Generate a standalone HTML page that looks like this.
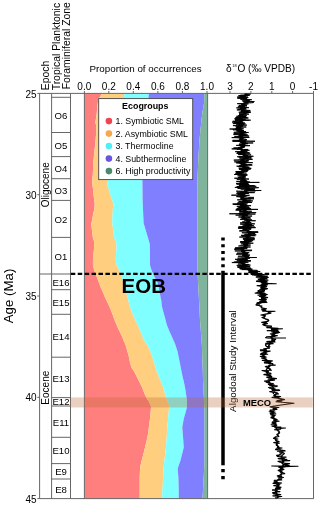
<!DOCTYPE html>
<html><head><meta charset="utf-8"><style>
html,body{margin:0;padding:0;background:#fff;}
svg{display:block;will-change:transform;}
text{font-family:"Liberation Sans",sans-serif;fill:#000;}
</style></head><body>
<svg width="320" height="506" viewBox="0 0 320 506">
<rect width="320" height="506" fill="#fff"/>
<g>
<polygon points="84.90,93.50 84.90,96.00 84.90,99.00 84.90,106.00 84.90,112.80 84.90,122.60 84.90,125.60 84.90,132.50 84.90,142.40 84.90,152.30 84.90,162.20 84.90,172.00 84.90,178.00 84.90,184.25 84.90,190.50 84.90,196.75 84.90,204.25 84.90,208.00 84.90,215.50 84.90,224.25 84.90,230.50 84.90,238.00 84.90,241.25 84.90,247.50 84.90,253.75 84.90,260.00 84.90,265.00 84.90,270.00 84.90,275.00 84.90,281.25 84.90,287.50 84.90,290.00 84.90,297.80 84.90,305.60 84.90,313.40 84.90,321.25 84.90,329.00 84.90,336.90 84.90,340.00 84.90,344.70 84.90,350.00 84.90,355.60 84.90,363.40 84.90,368.10 84.90,371.25 84.90,379.00 84.90,386.90 84.90,394.70 84.90,399.40 84.90,401.25 84.90,406.70 84.90,410.60 84.90,418.40 84.90,426.25 84.90,434.00 84.90,441.90 84.90,445.00 84.90,452.80 84.90,460.60 84.90,466.90 84.90,476.25 84.90,498.50 139.70,498.50 139.70,476.25 140.20,466.90 141.70,460.60 143.75,452.80 145.60,445.00 146.40,441.90 148.00,434.00 149.00,426.25 150.00,418.40 150.80,410.60 151.10,406.70 148.75,401.25 147.30,399.40 145.00,394.70 141.90,386.90 138.00,379.00 134.00,371.25 131.70,368.10 130.20,363.40 128.60,355.60 127.00,350.00 125.50,344.70 123.40,340.00 122.30,336.90 118.40,329.00 115.00,321.25 112.20,313.40 109.00,305.60 105.20,297.80 102.00,290.00 100.75,287.50 98.50,281.25 96.00,275.00 94.10,270.00 92.90,265.00 92.90,260.00 93.50,253.75 94.10,247.50 94.10,241.25 92.90,238.00 92.00,230.50 91.25,224.25 92.90,215.50 94.50,208.00 94.75,204.25 93.75,196.75 93.25,190.50 92.25,184.25 92.50,178.00 92.90,172.00 93.30,162.20 94.30,152.30 95.40,142.40 96.20,132.50 96.20,125.60 95.40,122.60 96.80,112.80 97.30,106.00 98.50,99.00 100.60,96.00 101.60,93.50" fill="#FF7F7F"/>
<polygon points="101.60,93.50 100.60,96.00 98.85,98.50 98.50,99.00 97.30,106.00 96.80,112.80 95.40,122.60 96.20,125.60 96.20,132.50 95.59,140.00 95.40,142.40 94.30,152.30 93.30,162.20 92.90,172.00 92.50,178.00 92.40,180.50 92.25,184.25 93.25,190.50 93.75,196.75 94.75,204.25 94.50,208.00 92.90,215.50 91.49,223.00 91.25,224.25 92.00,230.50 92.90,238.00 94.10,241.25 94.10,247.50 93.50,253.75 92.90,260.00 92.90,265.00 94.10,270.00 95.53,273.75 96.00,275.00 97.50,278.75 98.50,281.25 99.85,285.00 100.75,287.50 102.00,290.00 102.51,291.25 105.20,297.80 109.00,305.60 112.20,313.40 115.00,321.25 118.40,329.00 122.30,336.90 123.40,340.00 125.50,344.70 126.38,347.80 127.00,350.00 128.60,355.60 130.20,363.40 131.70,368.10 134.00,371.25 138.00,379.00 141.90,386.90 145.00,394.70 147.30,399.40 148.75,401.25 151.10,406.70 150.80,410.60 150.00,418.40 149.00,426.25 148.00,434.00 146.40,441.90 145.60,445.00 143.75,452.80 141.70,460.60 140.20,466.90 140.12,468.40 139.70,476.25 139.70,484.00 139.70,491.90 139.70,498.50 162.02,498.50 162.30,491.90 162.80,484.00 163.10,476.25 163.60,468.40 163.75,466.90 164.40,460.60 165.40,452.80 166.12,445.00 166.40,441.90 166.90,434.00 167.30,426.25 168.20,418.40 168.80,410.60 169.60,406.70 167.50,401.25 166.90,399.40 165.30,394.70 163.00,386.90 159.80,379.00 156.70,371.25 155.78,368.10 154.40,363.40 152.00,355.60 149.77,350.00 148.90,347.80 146.95,344.70 144.00,340.00 142.70,336.90 139.50,329.00 135.90,321.25 132.50,313.40 129.40,305.60 127.80,297.80 125.75,291.25 125.42,290.00 124.76,287.50 124.10,285.00 122.99,281.25 122.25,278.75 121.31,275.00 121.00,273.75 119.10,270.00 116.60,265.00 115.75,260.00 116.00,253.75 116.60,247.50 116.00,241.25 114.10,238.00 113.25,230.50 112.42,224.25 112.25,223.00 112.50,215.50 112.90,208.00 113.50,204.25 111.00,196.75 109.10,190.50 107.25,184.25 107.90,180.50 108.15,178.00 108.76,172.00 109.75,162.20 110.75,152.30 111.76,142.40 112.00,140.00 114.17,132.50 116.16,125.60 117.03,122.60 119.87,112.80 121.83,106.00 123.86,99.00 124.00,98.50 124.09,96.00 124.18,93.50" fill="#FFCF7F"/>
<polygon points="124.18,93.50 124.02,98.00 124.00,98.50 112.00,140.00 107.95,180.00 107.90,180.50 107.25,184.25 109.10,190.50 111.00,196.75 112.08,200.00 113.50,204.25 112.90,208.00 112.50,215.50 112.25,223.00 113.25,230.50 114.10,238.00 116.00,241.25 116.26,244.00 116.60,247.50 116.00,253.75 115.95,255.00 115.75,260.00 116.60,265.00 117.85,267.50 119.10,270.00 120.37,272.50 121.00,273.75 121.94,277.50 122.25,278.75 123.36,282.50 124.10,285.00 124.76,287.50 125.75,291.25 126.14,292.50 127.71,297.50 127.80,297.80 128.25,300.00 129.40,305.60 129.66,306.25 132.14,312.50 132.50,313.40 134.82,318.75 135.90,321.25 137.64,325.00 139.50,329.00 140.41,331.25 142.70,336.90 142.95,337.50 144.00,340.00 146.36,343.75 148.90,347.80 150.27,351.25 152.00,355.60 152.58,357.50 154.40,363.40 154.50,363.75 156.33,370.00 156.70,371.25 158.70,376.25 159.80,379.00 161.22,382.50 163.00,386.90 163.55,388.75 165.30,394.70 165.40,395.00 166.90,399.40 167.09,400.00 167.50,401.25 169.60,406.70 169.44,407.50 168.80,410.60 168.65,412.50 168.20,418.40 168.16,418.75 167.30,426.25 167.24,427.50 166.90,434.00 166.68,437.50 166.40,441.90 165.89,447.50 165.43,452.50 165.40,452.80 164.48,460.00 164.40,460.60 163.60,468.40 163.10,476.25 163.05,477.50 162.80,484.00 162.42,490.00 162.30,491.90 162.02,498.50 178.75,498.50 178.75,491.90 178.75,490.00 178.58,484.00 178.40,477.50 178.30,476.25 177.70,468.40 180.39,460.60 180.60,460.00 182.42,452.80 182.50,452.50 183.75,447.50 183.39,441.90 183.10,437.50 182.80,434.00 182.25,427.50 182.46,426.25 183.75,418.75 183.85,418.40 185.60,412.50 186.09,410.60 186.90,407.50 186.90,406.70 186.90,401.25 186.90,400.00 186.82,399.40 186.20,395.00 186.15,394.70 185.25,388.75 184.88,386.90 184.00,382.50 183.16,379.00 182.50,376.25 181.50,371.25 181.25,370.00 180.00,363.75 179.93,363.40 178.75,357.50 178.37,355.60 177.50,351.25 176.35,347.80 175.00,343.75 173.35,340.00 172.25,337.50 171.98,336.90 169.40,331.25 168.50,329.00 166.90,325.00 165.91,321.25 165.25,318.75 163.75,313.40 163.50,312.50 161.90,306.25 161.83,305.60 161.25,300.00 160.68,297.80 160.60,297.50 159.75,292.50 159.50,291.25 158.75,287.50 158.12,285.00 157.50,282.50 155.44,278.75 154.75,277.50 153.06,273.75 152.50,272.50 151.55,270.00 150.60,267.50 150.00,265.00 150.00,260.00 150.00,255.00 149.98,253.75 149.86,247.50 149.80,244.00 148.99,241.25 148.03,238.00 145.81,230.50 143.60,223.00 143.27,215.50 142.95,208.00 142.78,204.25 142.60,200.00 142.57,196.75 142.50,190.50 142.44,184.25 142.41,180.50 142.40,180.00 145.00,140.00 148.46,98.50 148.50,98.00 148.86,93.50" fill="#7FFFFF"/>
<polygon points="148.86,93.50 148.50,98.00 148.17,102.00 147.50,110.00 146.70,119.60 145.88,129.50 145.05,139.40 145.00,140.00 144.40,149.30 143.75,159.20 143.12,169.00 142.47,179.00 142.40,180.00 142.60,200.00 143.60,223.00 149.80,244.00 150.00,255.00 150.00,265.00 150.60,267.50 152.50,272.50 154.75,277.50 157.50,282.50 158.75,287.50 159.75,292.50 160.18,295.00 160.60,297.50 161.25,300.00 161.90,306.25 163.50,312.50 165.25,318.75 165.58,320.00 166.90,325.00 169.40,331.25 172.25,337.50 175.00,343.75 175.42,345.00 177.50,351.25 178.75,357.50 180.00,363.75 181.25,370.00 182.50,376.25 184.00,382.50 185.25,388.75 186.20,395.00 186.90,400.00 186.90,407.50 185.60,412.50 184.86,415.00 183.75,418.75 182.25,427.50 183.10,437.50 183.26,440.00 183.75,447.50 182.50,452.50 180.60,460.00 179.74,462.50 177.70,468.40 178.40,477.50 178.75,490.00 178.75,498.50 202.53,498.50 203.00,490.00 203.68,477.50 204.18,468.40 204.50,462.50 204.50,460.00 204.50,452.50 204.50,447.50 204.50,440.00 204.50,437.50 204.50,427.50 204.50,418.75 204.50,415.00 204.41,412.50 204.22,407.50 203.94,400.00 203.75,395.00 203.43,388.75 203.10,382.50 202.93,376.25 202.75,370.00 202.50,363.75 202.25,357.50 202.07,351.25 201.90,345.00 201.81,343.75 201.33,337.50 200.85,331.25 200.38,325.00 200.00,320.00 199.94,318.75 199.62,312.50 199.31,306.25 199.00,300.00 198.88,297.50 198.75,295.00 198.61,292.50 198.33,287.50 198.06,282.50 197.78,277.50 197.50,272.50 197.50,267.50 197.50,265.00 197.50,255.00 197.50,244.00 197.50,223.00 197.50,200.00 197.50,180.00 197.50,179.00 197.90,169.00 198.30,159.20 198.90,149.30 199.46,140.00 199.50,139.40 200.50,129.50 201.50,119.60 202.80,110.00 204.20,102.00 204.24,98.00 204.29,93.50" fill="#7F7FFF"/>
<polygon points="204.29,93.50 204.20,102.00 202.80,110.00 201.50,119.60 200.50,129.50 199.50,139.40 198.90,149.30 198.30,159.20 197.90,169.00 197.50,179.00 197.50,272.50 198.75,295.00 200.00,320.00 201.90,345.00 202.25,357.50 202.75,370.00 203.10,382.50 203.75,395.00 204.50,415.00 204.50,440.00 204.50,462.50 203.00,490.00 202.53,498.50 207.20,498.50 207.20,490.00 207.20,462.50 207.20,440.00 207.20,415.00 207.20,395.00 207.20,382.50 207.20,370.00 207.20,357.50 207.20,345.00 207.20,320.00 207.20,295.00 207.20,272.50 207.20,179.00 207.20,169.00 207.20,159.20 207.20,149.30 207.20,139.40 207.20,129.50 207.20,119.60 207.20,110.00 207.20,102.00 207.20,93.50" fill="#7FB39B"/>

</g>
<!-- frame -->
<g stroke="#666" stroke-width="1" fill="none">
<line x1="37.3" y1="93.4" x2="313.8" y2="93.4"/>
<line x1="37.3" y1="498.6" x2="313.8" y2="498.6"/>
<line x1="39.6" y1="93.4" x2="39.6" y2="498.6"/>
<line x1="51.6" y1="93.4" x2="51.6" y2="498.6"/>
<line x1="70.5" y1="93.4" x2="70.5" y2="498.6"/>
<line x1="84.4" y1="93.4" x2="84.4" y2="498.6"/>
<line x1="207.6" y1="93.4" x2="207.6" y2="498.6"/>
<line x1="313.5" y1="93.4" x2="313.5" y2="498.6"/>
<!-- y ticks -->
<line x1="37.3" y1="194.7" x2="39.6" y2="194.7"/>
<line x1="37.3" y1="296" x2="39.6" y2="296"/>
<line x1="37.3" y1="397.3" x2="39.6" y2="397.3"/>
<!-- zone lines -->
<line x1="51.6" y1="97.3" x2="70.5" y2="97.3"/>
<line x1="51.6" y1="132.5" x2="70.5" y2="132.5"/>
<line x1="51.6" y1="156.6" x2="70.5" y2="156.6"/>
<line x1="51.6" y1="178.7" x2="70.5" y2="178.7"/>
<line x1="51.6" y1="200.4" x2="70.5" y2="200.4"/>
<line x1="51.6" y1="237.4" x2="70.5" y2="237.4"/>
<line x1="39.6" y1="274" x2="70.5" y2="274"/>
<line x1="51.6" y1="289.7" x2="70.5" y2="289.7"/>
<line x1="51.6" y1="314.3" x2="70.5" y2="314.3"/>
<line x1="51.6" y1="357.2" x2="70.5" y2="357.2"/>
<line x1="51.6" y1="397.6" x2="70.5" y2="397.6"/>
<line x1="51.6" y1="406" x2="70.5" y2="406"/>
<line x1="51.6" y1="437.3" x2="70.5" y2="437.3"/>
<line x1="51.6" y1="463.6" x2="70.5" y2="463.6"/>
<line x1="51.6" y1="479" x2="70.5" y2="479"/>
<!-- top ticks proportion -->
<line x1="84.4" y1="91" x2="84.4" y2="93.4"/>
<line x1="108.8" y1="91" x2="108.8" y2="93.4"/>
<line x1="133.3" y1="91" x2="133.3" y2="93.4"/>
<line x1="157.9" y1="91" x2="157.9" y2="93.4"/>
<line x1="182.4" y1="91" x2="182.4" y2="93.4"/>
<line x1="207" y1="91" x2="207" y2="93.4"/>
<!-- top ticks d18O -->
<line x1="230" y1="91" x2="230" y2="93.4"/>
<line x1="250.9" y1="91" x2="250.9" y2="93.4"/>
<line x1="271.8" y1="91" x2="271.8" y2="93.4"/>
<line x1="292.6" y1="91" x2="292.6" y2="93.4"/>
<line x1="313.5" y1="91" x2="313.5" y2="93.4"/>
</g>
<!-- legend -->
<rect x="98.7" y="98.6" width="94" height="81" fill="#fff" stroke="#444" stroke-width="0.9"/>
<text x="145.3" y="109.2" font-size="8.9" font-weight="bold" text-anchor="middle">Ecogroups</text>
<g font-size="8.8">
<circle cx="108.9" cy="121.1" r="3.3" fill="#F04550"/>
<text x="115.5" y="124.3">1. Symbiotic SML</text>
<circle cx="108.9" cy="133.6" r="3.3" fill="#FBA64D"/>
<text x="115.5" y="136.8">2. Asymbiotic SML</text>
<circle cx="108.9" cy="146.1" r="3.3" fill="#4EF0F5"/>
<text x="115.5" y="149.3">3. Thermocline</text>
<circle cx="108.9" cy="158.6" r="3.3" fill="#6B55E0"/>
<text x="115.5" y="161.8">4. Subthermocline</text>
<circle cx="108.9" cy="171.1" r="3.3" fill="#4A8A6A"/>
<text x="115.5" y="174.3">6. High productivity</text>
</g>
<!-- axis labels -->
<g font-size="10">
<text x="36.6" y="97.5" text-anchor="end">25</text>
<text x="36.6" y="198.8" text-anchor="end">30</text>
<text x="36.6" y="300.1" text-anchor="end">35</text>
<text x="36.6" y="401.4" text-anchor="end">40</text>
<text x="36.6" y="502.7" text-anchor="end">45</text>
<text x="84.3" y="90.2" text-anchor="middle">0.0</text>
<text x="108.8" y="90.2" text-anchor="middle">0.2</text>
<text x="133.3" y="90.2" text-anchor="middle">0.4</text>
<text x="157.9" y="90.2" text-anchor="middle">0.6</text>
<text x="182.4" y="90.2" text-anchor="middle">0.8</text>
<text x="207" y="90.2" text-anchor="middle">1.0</text>
<text x="230" y="90.2" text-anchor="middle">3</text>
<text x="250.9" y="90.2" text-anchor="middle">2</text>
<text x="271.8" y="90.2" text-anchor="middle">1</text>
<text x="292.6" y="90.2" text-anchor="middle">0</text>
<text x="313.5" y="90.2" text-anchor="middle">-1</text>
<text x="145.6" y="71.9" text-anchor="middle" font-size="9.8">Proportion of occurrences</text>
<text x="226" y="72" font-size="10.1">δ<tspan font-size="3.9" dy="-5.3" dx="0.6">18</tspan><tspan dy="5.3" dx="0.9">O (‰ VPDB)</tspan></text>
</g>
<g font-size="10">
<text transform="translate(48.5,90.2) rotate(-90)" font-size="10.4">Epoch</text>
<text transform="translate(59.5,90.3) rotate(-90)" font-size="10.4">Tropical Planktonic</text>
<text transform="translate(70.2,89.3) rotate(-90)" font-size="10.4">Foraminiferal Zone</text>
<text transform="translate(48.5,184.8) rotate(-90)" text-anchor="middle">Oligocene</text>
<text transform="translate(48.5,387.7) rotate(-90)" text-anchor="middle">Eocene</text>
</g>
<text transform="translate(12.7,296) rotate(-90)" text-anchor="middle" font-size="13.3">Age (Ma)</text>
<!-- zone labels -->
<g font-size="9.6" text-anchor="middle">
<text x="61" y="118.9">O6</text>
<text x="61" y="148.5">O5</text>
<text x="61" y="171.6">O4</text>
<text x="61" y="193.5">O3</text>
<text x="61" y="222.9">O2</text>
<text x="61" y="259.7">O1</text>
<text x="61" y="285.8">E16</text>
<text x="61" y="306.0">E15</text>
<text x="61" y="339.7">E14</text>
<text x="61" y="381.5">E13</text>
<text x="61" y="404.6">E12</text>
<text x="61" y="425.6">E11</text>
<text x="61" y="454.4">E10</text>
<text x="61" y="475.3">E9</text>
<text x="61" y="492.7">E8</text>
</g>
<!-- EOB line -->
<line x1="70.8" y1="273.8" x2="311.4" y2="273.8" stroke="#000" stroke-width="2.2" stroke-dasharray="4.5 2.425"/>
<text transform="translate(121.6,292.6) scale(1.05,1)" font-size="19.5" font-weight="bold">EOB</text>
<!-- study interval -->
<line x1="223" y1="237.6" x2="223" y2="270.8" stroke="#000" stroke-width="3.5" stroke-dasharray="3 3.65"/>
<line x1="223" y1="270.8" x2="223" y2="465.3" stroke="#000" stroke-width="3.5"/>
<line x1="223" y1="469" x2="223" y2="479.2" stroke="#000" stroke-width="3.5" stroke-dasharray="3.2 3.8"/>
<text transform="translate(235.9,411.9) rotate(-90)" font-size="9.9">Algodoal Study Interval</text>
<!-- curve -->
<polygon points="244.05,93.80 244.52,94.80 242.90,95.80 240.90,96.80 243.64,97.80 245.10,98.80 245.02,99.80 245.91,100.80 245.43,101.80 243.76,102.80 241.97,103.80 241.52,104.80 241.75,105.80 240.35,106.80 240.01,107.80 241.67,108.80 240.87,109.80 241.09,110.80 241.52,111.80 243.87,112.80 243.61,113.80 240.48,114.80 238.88,115.80 238.87,116.80 237.92,117.80 238.48,118.80 240.37,119.80 239.81,120.80 239.14,121.80 239.08,122.80 239.79,123.80 238.90,124.80 238.24,125.80 236.70,126.80 236.34,127.80 235.09,128.80 236.05,129.80 237.29,130.80 239.70,131.80 238.98,132.80 239.45,133.80 238.49,134.80 238.47,135.80 238.73,136.80 238.75,137.80 239.91,138.80 238.77,139.80 237.31,140.80 239.13,141.80 240.07,142.80 242.07,143.80 241.21,144.80 241.67,145.80 240.32,146.80 237.61,147.80 237.43,148.80 240.28,149.80 240.74,150.80 240.11,151.80 239.69,152.80 240.77,153.80 241.37,154.80 243.18,155.80 244.77,156.80 244.28,157.80 242.24,158.80 240.22,159.80 240.22,160.80 241.47,161.80 240.78,162.80 241.10,163.80 243.23,164.80 241.89,165.80 241.72,166.80 242.49,167.80 242.90,168.80 241.72,169.80 240.98,170.80 239.56,171.80 239.36,172.80 237.56,173.80 239.07,174.80 241.43,175.80 241.77,176.80 239.81,177.80 240.86,178.80 241.41,179.80 242.56,180.80 243.32,181.80 243.63,182.80 242.50,183.80 242.11,184.80 241.71,185.80 243.75,186.80 245.45,187.80 245.47,188.80 245.61,189.80 245.10,190.80 241.67,191.80 240.55,192.80 240.54,193.80 241.47,194.80 240.09,195.80 239.09,196.80 240.52,197.80 241.09,198.80 241.83,199.80 243.12,200.80 243.11,201.80 241.01,202.80 239.19,203.80 238.76,204.80 240.20,205.80 241.15,206.80 241.85,207.80 243.28,208.80 243.72,209.80 242.58,210.80 242.11,211.80 243.67,212.80 243.82,213.80 242.11,214.80 242.29,215.80 241.44,216.80 242.46,217.80 243.85,218.80 245.82,219.80 246.70,220.80 246.79,221.80 245.93,222.80 245.73,223.80 246.23,224.80 244.68,225.80 245.82,226.80 244.89,227.80 243.55,228.80 243.67,229.80 246.20,230.80 247.10,231.80 247.76,232.80 248.19,233.80 247.17,234.80 247.20,235.80 245.29,236.80 245.74,237.80 246.60,238.80 245.75,239.80 243.82,240.80 243.34,241.80 244.15,242.80 244.47,243.80 243.34,244.80 244.27,245.80 243.65,246.80 239.71,247.80 239.47,248.80 241.01,249.80 241.39,250.80 241.38,251.80 243.05,252.80 243.02,253.80 242.17,254.80 243.25,255.80 244.17,256.80 245.54,257.80 242.50,258.80 240.49,259.80 239.29,260.80 239.79,261.80 238.85,262.80 241.70,263.80 242.11,264.80 242.89,265.80 241.01,266.80 243.25,267.80 244.70,268.80 246.90,269.80 248.42,270.80 250.76,271.80 252.88,272.80 254.00,273.80 255.20,274.80 257.82,275.80 259.94,276.80 260.60,277.80 260.27,278.80 260.82,279.80 261.27,280.80 260.10,281.80 261.12,282.80 261.95,283.80 261.17,284.80 260.43,285.80 260.97,286.80 261.61,287.80 261.11,288.80 262.08,289.80 261.69,290.80 259.29,291.80 258.39,292.80 259.86,293.80 261.21,294.80 260.52,295.80 260.32,296.80 260.80,297.80 261.93,298.80 260.24,299.80 261.81,300.80 261.73,301.80 260.12,302.80 258.56,303.80 258.44,304.80 258.67,305.80 260.08,306.80 261.28,307.80 262.94,308.80 264.07,309.80 264.90,310.80 266.48,311.80 269.10,312.80 267.63,313.80 264.55,314.80 263.65,315.80 263.86,316.80 263.33,317.80 263.71,318.80 266.00,319.80 268.06,320.80 266.21,321.80 264.54,322.80 263.50,323.80 261.72,324.80 263.61,325.80 267.14,326.80 269.80,327.80 271.05,328.80 271.20,329.80 272.84,330.80 272.97,331.80 273.10,332.80 273.14,333.80 272.79,334.80 271.77,335.80 270.89,336.80 270.11,337.80 271.50,338.80 271.20,339.80 271.03,340.80 269.26,341.80 269.35,342.80 268.72,343.80 268.36,344.80 267.89,345.80 268.42,346.80 266.71,347.80 264.34,348.80 264.32,349.80 264.02,350.80 264.16,351.80 264.22,352.80 264.26,353.80 263.18,354.80 261.84,355.80 262.22,356.80 264.11,357.80 264.80,358.80 264.55,359.80 266.81,360.80 267.03,361.80 267.63,362.80 268.12,363.80 270.01,364.80 268.44,365.80 267.25,366.80 267.78,367.80 266.12,368.80 265.61,369.80 265.98,370.80 266.54,371.80 267.43,372.80 266.29,373.80 267.21,374.80 268.51,375.80 269.87,376.80 270.74,377.80 271.26,378.80 269.61,379.80 268.33,380.80 267.87,381.80 268.22,382.80 269.95,383.80 270.07,384.80 271.00,385.80 271.82,386.80 272.81,387.80 271.86,388.80 272.96,389.80 274.44,390.80 273.16,391.80 272.30,392.80 272.88,393.80 274.02,394.80 274.62,395.80 274.92,396.80 276.31,396.80 275.49,395.80 276.21,394.80 274.09,393.80 273.91,392.80 274.27,391.80 276.30,390.80 275.04,389.80 273.61,388.80 274.19,387.80 273.19,386.80 273.38,385.80 271.96,384.80 271.26,383.80 270.80,382.80 269.54,381.80 270.52,380.80 271.93,379.80 272.68,378.80 272.07,377.80 271.27,376.80 270.05,375.80 268.49,374.80 268.14,373.80 268.11,372.80 267.96,371.80 267.94,370.80 267.07,369.80 267.76,368.80 268.69,367.80 270.07,366.80 270.47,365.80 270.77,364.80 270.07,363.80 269.65,362.80 269.14,361.80 268.66,360.80 267.11,359.80 265.49,358.80 265.31,357.80 264.63,356.80 263.92,355.80 265.10,354.80 266.51,353.80 267.43,352.80 265.47,351.80 265.98,350.80 265.49,349.80 265.75,348.80 267.01,347.80 269.52,346.80 269.67,345.80 269.96,344.80 271.36,343.80 270.75,342.80 272.46,341.80 271.59,340.80 273.02,339.80 274.17,338.80 272.51,337.80 273.09,336.80 273.64,335.80 274.83,334.80 276.13,333.80 274.88,332.80 274.74,331.80 274.07,330.80 274.02,329.80 274.22,328.80 272.77,327.80 269.26,326.80 266.58,325.80 265.14,324.80 265.81,323.80 266.57,322.80 268.00,321.80 268.61,320.80 267.73,319.80 265.43,318.80 264.46,317.80 265.28,316.80 266.04,315.80 265.05,314.80 268.70,313.80 270.56,312.80 268.09,311.80 266.11,310.80 265.92,309.80 264.40,308.80 262.55,307.80 261.49,306.80 259.82,305.80 259.47,304.80 260.33,303.80 263.05,302.80 264.30,301.80 265.07,300.80 263.68,299.80 264.96,298.80 264.28,297.80 264.78,296.80 264.74,295.80 264.15,294.80 262.97,293.80 262.23,292.80 263.96,291.80 265.24,290.80 264.72,289.80 264.74,288.80 264.31,287.80 265.25,286.80 264.67,285.80 265.33,284.80 266.95,283.80 266.25,282.80 265.50,281.80 264.79,280.80 265.17,279.80 264.72,278.80 264.16,277.80 265.06,276.80 262.78,275.80 260.76,274.80 258.34,273.80 257.89,272.80 256.96,271.80 254.88,270.80 251.51,269.80 251.08,268.80 246.66,267.80 244.57,266.80 247.44,265.80 247.66,264.80 245.84,263.80 244.06,262.80 242.78,261.80 244.09,260.80 244.25,259.80 246.56,258.80 248.18,257.80 248.81,256.80 246.68,255.80 247.26,254.80 247.73,253.80 245.85,252.80 245.20,251.80 245.82,250.80 244.58,249.80 243.32,248.80 244.49,247.80 246.60,246.80 248.52,245.80 247.29,244.80 247.94,243.80 247.80,242.80 247.51,241.80 247.22,240.80 248.66,239.80 249.17,238.80 249.16,237.80 248.54,236.80 249.55,235.80 250.45,234.80 250.80,233.80 252.28,232.80 251.40,231.80 249.74,230.80 246.90,229.80 247.81,228.80 248.66,227.80 248.50,226.80 247.99,225.80 248.92,224.80 248.66,223.80 249.25,222.80 249.16,221.80 250.04,220.80 249.07,219.80 247.36,218.80 244.93,217.80 245.55,216.80 244.40,215.80 245.38,214.80 247.68,213.80 247.56,212.80 245.77,211.80 246.42,210.80 247.28,209.80 248.12,208.80 245.75,207.80 244.55,206.80 243.89,205.80 244.14,204.80 243.64,203.80 245.90,202.80 248.41,201.80 247.32,200.80 245.98,199.80 245.20,198.80 244.74,197.80 243.74,196.80 244.29,195.80 245.20,194.80 246.04,193.80 245.71,192.80 246.79,191.80 250.22,190.80 250.86,189.80 250.09,188.80 250.13,187.80 247.86,186.80 246.67,185.80 246.20,184.80 248.32,183.80 248.31,182.80 247.75,181.80 246.47,180.80 246.13,179.80 244.68,178.80 243.75,177.80 245.47,176.80 245.46,175.80 243.21,174.80 241.88,173.80 242.73,172.80 244.16,171.80 244.49,170.80 245.76,169.80 247.23,168.80 246.51,167.80 245.55,166.80 246.62,165.80 247.51,164.80 245.62,163.80 244.76,162.80 245.17,161.80 245.43,160.80 244.04,159.80 246.18,158.80 248.84,157.80 248.05,156.80 247.00,155.80 245.61,154.80 245.82,153.80 244.08,152.80 244.21,151.80 244.94,150.80 243.00,149.80 242.01,148.80 242.83,147.80 244.15,146.80 246.00,145.80 244.96,144.80 245.42,143.80 244.03,142.80 243.82,141.80 241.62,140.80 242.68,139.80 243.59,138.80 243.67,137.80 243.13,136.80 242.72,135.80 243.80,134.80 243.40,133.80 243.86,132.80 243.95,131.80 241.15,130.80 239.92,129.80 239.84,128.80 241.43,127.80 240.61,126.80 242.43,125.80 243.98,124.80 243.79,123.80 241.41,122.80 241.96,121.80 243.93,120.80 243.68,119.80 242.29,118.80 242.85,117.80 243.20,116.80 242.60,115.80 244.02,114.80 246.51,113.80 248.16,112.80 246.55,111.80 245.10,110.80 245.67,109.80 245.16,108.80 243.63,107.80 245.29,106.80 244.45,105.80 244.01,104.80 244.65,103.80 248.55,102.80 249.57,101.80 249.62,100.80 248.18,99.80 247.19,98.80 246.37,97.80 244.65,96.80 246.14,95.80 247.59,94.80 246.96,93.80" fill="#000"/><polygon points="274.61,407.80 275.65,408.80 273.73,409.80 273.29,410.80 271.62,411.80 272.11,412.80 271.48,413.80 271.64,414.80 272.92,415.80 272.21,416.80 271.80,417.80 272.71,418.80 273.76,419.80 274.42,420.80 274.78,421.80 275.00,422.80 274.31,423.80 274.74,424.80 274.14,425.80 274.41,426.80 276.22,427.80 275.41,428.80 275.84,429.80 278.02,430.80 278.49,431.80 278.27,432.80 278.03,433.80 277.60,434.80 276.72,435.80 274.58,436.80 274.32,437.80 274.64,438.80 274.75,439.80 275.17,440.80 276.72,441.80 276.58,442.80 275.62,443.80 275.55,444.80 277.20,445.80 277.09,446.80 276.73,447.80 278.30,448.80 279.78,449.80 281.11,450.80 281.61,451.80 282.80,452.80 283.46,453.80 281.90,454.80 281.03,455.80 280.24,456.80 281.47,457.80 281.59,458.80 281.28,459.80 281.98,460.80 281.93,461.80 281.79,462.80 281.54,463.80 282.65,464.80 282.15,465.80 281.67,466.80 280.38,467.80 280.30,468.80 278.74,469.80 280.10,470.80 280.08,471.80 281.42,472.80 280.65,473.80 280.10,474.80 281.05,475.80 279.41,476.80 279.72,477.80 277.89,478.80 277.73,479.80 275.62,480.80 275.81,481.80 276.79,482.80 276.35,483.80 277.48,484.80 276.78,485.80 277.15,486.80 275.42,487.80 275.61,488.80 274.79,489.80 275.32,490.80 274.80,491.80 274.37,492.80 275.90,493.80 276.49,494.80 276.84,495.80 277.05,496.80 276.68,497.80 278.40,497.80 279.31,496.80 278.60,495.80 278.06,494.80 277.74,493.80 277.14,492.80 277.25,491.80 276.94,490.80 276.66,489.80 276.74,488.80 277.89,487.80 279.32,486.80 279.35,485.80 279.39,484.80 278.74,483.80 278.56,482.80 277.61,481.80 277.35,480.80 279.50,479.80 279.65,478.80 280.02,477.80 281.40,476.80 281.55,475.80 281.81,474.80 281.77,473.80 283.19,472.80 282.65,471.80 281.08,470.80 281.41,469.80 282.74,468.80 282.42,467.80 282.79,466.80 283.89,465.80 284.73,464.80 283.38,463.80 283.61,462.80 284.61,461.80 283.91,460.80 282.83,459.80 282.98,458.80 282.40,457.80 282.62,456.80 282.61,455.80 283.86,454.80 285.08,453.80 284.38,452.80 282.30,451.80 281.75,450.80 280.73,449.80 280.11,448.80 278.61,447.80 278.19,446.80 278.38,445.80 277.35,444.80 277.47,443.80 277.98,442.80 278.32,441.80 277.53,440.80 276.53,439.80 276.09,438.80 275.11,437.80 276.09,436.80 277.98,435.80 278.16,434.80 279.45,433.80 279.70,432.80 278.97,431.80 278.25,430.80 278.32,429.80 277.23,428.80 277.39,427.80 275.71,426.80 275.49,425.80 276.21,424.80 275.79,423.80 275.78,422.80 275.98,421.80 275.77,420.80 274.91,419.80 274.78,418.80 274.10,417.80 275.12,416.80 273.71,415.80 272.30,414.80 273.70,413.80 273.98,412.80 273.30,411.80 274.28,410.80 275.77,409.80 277.13,408.80 275.90,407.80" fill="#000"/>
<polyline points="245.47,93.60 245.34,93.87 250.57,94.08 249.83,94.33 246.66,94.53 245.12,94.75 246.29,94.99 240.36,95.24 249.65,95.40 238.45,95.61 243.61,95.81 247.90,95.98 241.80,96.23 239.54,96.39 246.16,96.63 246.22,96.81 237.33,96.93 239.74,97.21 241.79,97.43 248.29,97.57 237.64,97.81 244.66,97.93 237.30,98.16 244.52,98.40 241.13,98.58 247.07,98.84 240.25,99.12 242.65,99.38 251.76,99.66 245.73,99.88 241.85,100.01 243.30,100.19 243.53,100.40 245.49,100.58 249.96,100.74 248.32,100.88 247.76,101.11 242.58,101.25 254.39,101.52 253.50,101.75 245.88,101.77 243.32,101.92 251.71,102.08 251.93,102.30 253.70,102.45 253.08,102.61 251.71,102.82 247.85,103.01 245.71,103.21 242.54,103.48 237.19,103.65 248.42,103.89 245.50,104.02 244.92,104.29 241.25,104.53 246.57,104.76 246.54,104.95 241.81,105.16 238.91,105.37 246.96,105.60 245.66,105.83 246.73,106.05 238.62,106.18 240.52,106.40 244.23,106.63 237.87,106.89 239.65,107.06 244.19,107.21 240.65,107.40 248.93,107.63 236.40,107.87 238.55,108.08 246.02,108.28 240.21,108.51 240.29,108.66 244.06,108.82 246.44,109.01 238.52,109.29 238.19,109.42 241.05,109.65 236.89,109.90 240.52,110.05 248.16,110.29 250.31,110.43 248.85,110.66 243.32,110.89 249.59,111.02 248.63,111.29 245.56,111.44 247.89,111.59 240.54,111.77 250.91,112.04 238.75,112.26 250.43,112.52 243.45,112.73 243.94,113.00 246.17,113.13 240.32,113.37 239.24,113.62 240.96,113.80 247.09,113.94 248.95,114.19 239.01,114.39 240.88,114.55 242.91,114.78 240.11,115.04 246.32,115.22 246.89,115.37 238.26,115.58 242.54,115.78 241.49,115.91 241.94,116.09 236.43,116.29 246.19,116.50 240.82,116.76 244.55,116.90 238.97,117.17 245.58,117.32 235.58,117.46 247.31,117.61 236.30,117.79 248.41,118.02 235.25,118.26 241.79,118.48 240.97,118.68 234.43,118.84 245.35,119.08 245.76,119.25 245.57,119.40 235.12,119.54 240.79,119.68 249.48,119.93 250.60,120.17 249.31,120.45 235.01,120.68 243.28,120.80 238.36,121.07 232.83,121.21 235.27,121.47 234.30,121.70 239.84,121.90 232.09,122.11 242.90,122.26 234.37,122.45 235.64,122.69 244.85,122.95 237.22,123.22 243.76,123.43 232.89,123.60 245.47,123.78 244.43,124.01 236.90,124.20 236.30,124.37 243.06,124.55 243.47,124.71 242.30,124.88 246.83,125.09 243.94,125.31 232.96,125.59 235.51,125.75 235.83,125.90 240.60,126.06 240.58,126.26 242.99,126.54 242.35,126.67 235.67,126.80 246.27,126.99 239.14,127.21 237.04,127.38 236.43,127.58 241.45,127.85 239.54,127.97 240.35,128.19 237.03,128.32 235.87,128.54 243.60,128.78 229.64,129.02 242.34,129.26 232.85,129.51 233.96,129.73 233.23,129.86 237.16,130.05 237.08,130.21 244.01,130.46 236.39,130.73 242.77,130.87 237.72,131.09 241.79,131.32 237.81,131.54 246.04,131.70 236.20,131.96 236.02,132.12 233.83,132.33 248.57,132.47 241.59,132.65 244.87,132.79 245.10,132.98 243.90,133.23 233.68,133.41 241.46,133.69 240.10,133.93 246.65,134.10 240.78,134.24 244.06,134.47 233.44,134.60 239.27,134.80 247.88,135.06 242.00,135.20 245.75,135.47 238.98,135.66 245.81,135.83 249.12,136.09 241.72,136.21 239.18,136.46 234.37,136.64 238.05,136.88 240.99,137.01 242.25,137.22 249.31,137.47 231.72,137.60 236.89,137.73 238.29,137.97 241.61,138.13 239.75,138.37 241.73,138.65 244.28,138.85 245.63,139.12 245.25,139.35 246.78,139.60 243.58,139.82 239.80,140.07 246.38,140.21 232.55,140.39 244.78,140.60 237.72,140.79 245.05,140.94 250.75,141.18 255.00,141.25 232.51,141.30 240.19,141.52 245.54,141.72 246.35,141.90 242.12,142.12 240.84,142.38 245.69,142.65 241.48,142.79 253.16,142.94 246.49,143.19 247.79,143.32 242.71,143.58 247.69,143.74 239.20,143.93 239.05,144.19 243.51,144.43 239.63,144.56 239.32,144.71 244.70,144.85 245.64,145.06 243.96,145.19 236.21,145.39 249.97,145.66 239.61,145.86 241.21,146.12 242.84,146.25 245.00,146.48 242.25,146.62 243.84,146.90 244.18,147.02 241.02,147.18 244.49,147.30 238.52,147.45 238.27,147.63 242.07,147.80 233.50,147.97 242.33,148.24 235.37,148.41 233.85,148.55 241.05,148.74 231.72,148.87 238.70,149.06 236.88,149.31 248.00,149.46 244.05,149.73 245.05,149.95 242.38,150.11 249.44,150.27 242.37,150.41 243.54,150.65 246.73,150.80 242.23,151.01 247.50,151.15 245.72,151.35 243.34,151.50 235.23,151.66 237.32,151.84 246.02,152.10 239.00,152.29 237.21,152.51 249.12,152.77 240.03,152.91 250.20,153.18 238.11,153.33 236.64,153.45 241.87,153.68 237.93,153.89 239.44,154.04 239.85,154.23 244.38,154.43 238.39,154.60 251.09,154.83 245.17,155.02 246.76,155.26 247.91,155.45 243.52,155.71 244.88,155.92 249.62,156.12 253.39,156.30 243.31,156.51 237.28,156.73 251.75,156.88 238.65,157.08 251.05,157.31 250.96,157.59 247.18,157.76 245.31,157.91 239.60,158.05 239.65,158.26 243.20,158.42 248.81,158.55 245.61,158.73 251.48,158.86 249.51,159.06 252.65,159.25 252.15,159.48 238.66,159.66 238.80,159.92 233.78,160.14 247.92,160.31 246.97,160.47 245.83,160.65 249.07,160.83 245.33,161.06 240.01,161.27 238.17,161.51 247.63,161.72 234.33,161.87 242.12,162.00 237.33,162.20 239.81,162.42 252.71,162.67 236.14,162.82 237.42,163.08 241.84,163.28 239.66,163.55 242.11,163.75 244.32,163.98 246.59,164.18 240.71,164.38 251.50,164.63 248.24,164.82 252.34,165.07 241.88,165.32 239.32,165.47 242.28,165.67 247.57,165.88 247.87,166.08 236.61,166.21 240.44,166.42 238.13,166.56 243.56,166.73 238.63,166.89 249.40,167.14 244.63,167.34 243.42,167.54 249.17,167.77 245.42,167.91 244.74,168.05 251.28,168.33 242.72,168.47 238.78,168.66 246.21,168.89 239.02,169.06 250.58,169.19 239.55,169.47 239.48,169.65 247.74,169.83 243.10,170.04 241.93,170.23 248.35,170.47 242.25,170.72 244.95,170.90 243.39,171.10 242.39,171.25 247.52,171.43 235.57,171.60 243.19,171.80 236.28,171.96 244.07,172.23 236.39,172.46 236.87,172.63 243.44,172.89 246.50,173.10 235.33,173.29 240.63,173.46 237.74,173.61 236.58,173.84 242.22,174.00 243.86,174.18 238.87,174.34 234.20,174.49 247.26,174.69 241.81,174.82 247.06,175.00 247.33,175.22 246.82,175.42 240.12,175.58 237.54,175.85 245.90,176.08 243.35,176.35 241.62,176.51 239.53,176.78 240.69,177.04 240.68,177.22 238.05,177.46 240.84,177.58 245.68,177.75 240.01,177.97 234.42,178.24 240.98,178.46 245.53,178.64 246.80,178.90 249.03,179.03 239.12,179.21 236.81,179.36 242.10,179.48 245.13,179.64 244.34,179.84 241.93,180.10 241.75,180.27 246.20,180.51 239.99,180.78 244.91,181.00 247.27,181.18 236.37,181.39 247.57,181.62 248.97,181.88 249.85,182.14 239.61,182.34 259.40,182.40 245.60,182.56 249.09,182.74 247.76,182.97 241.71,183.15 236.05,183.40 247.32,183.59 240.26,183.84 241.40,184.02 236.57,184.17 246.80,184.34 239.26,184.52 249.11,184.66 244.33,184.82 249.19,185.06 238.92,185.32 248.71,185.45 254.61,185.67 246.82,185.95 239.48,186.16 256.28,186.30 236.74,186.49 244.24,186.70 237.09,186.88 239.24,187.04 239.79,187.28 234.89,187.45 258.72,187.64 256.13,187.82 254.71,188.09 250.90,188.28 237.61,188.43 240.90,188.66 254.92,188.87 240.74,189.02 251.94,189.23 252.16,189.46 254.84,189.72 246.53,189.85 253.82,190.09 244.06,190.21 250.17,190.39 261.25,190.50 249.63,190.64 253.11,190.82 255.36,190.99 236.29,191.14 238.07,191.37 238.47,191.55 242.52,191.75 240.35,191.95 247.42,192.21 242.64,192.35 254.67,192.62 237.09,192.89 248.21,193.07 236.32,193.31 248.77,193.55 241.15,193.68 242.39,193.87 238.50,194.14 242.84,194.38 243.72,194.58 237.51,194.76 242.76,195.02 231.40,195.19 249.51,195.33 245.77,195.57 247.20,195.85 242.14,195.99 244.09,196.15 245.89,196.42 236.38,196.62 238.89,196.88 242.75,197.13 253.63,197.39 252.91,197.55 253.39,197.74 248.37,197.99 250.58,198.24 249.31,198.41 242.62,198.56 253.98,198.78 240.14,198.91 246.65,199.13 243.00,199.29 241.60,199.41 245.21,199.63 237.25,199.86 250.79,200.07 242.77,200.34 247.00,200.49 242.68,200.73 252.89,200.92 244.95,201.17 243.76,201.37 238.55,201.60 249.90,201.86 250.64,202.09 246.34,202.27 252.07,202.46 241.43,202.68 237.55,202.90 247.62,203.08 237.91,203.27 237.35,203.53 238.22,203.75 232.60,204.00 246.12,204.23 233.45,204.50 239.17,204.68 247.27,204.90 240.59,205.18 244.56,205.43 251.05,205.71 242.87,205.96 246.80,206.17 236.84,206.37 246.49,206.65 248.82,206.91 242.43,207.11 241.71,207.25 238.82,207.51 249.50,207.69 237.72,207.94 244.42,208.09 241.48,208.26 250.79,208.48 236.92,208.69 238.67,208.95 237.48,209.16 235.93,209.28 258.00,209.40 237.50,209.51 245.92,209.71 243.82,209.96 235.65,210.12 241.16,210.31 240.06,210.59 239.36,210.87 245.15,211.09 251.78,211.24 239.61,211.47 240.28,211.64 248.01,211.82 239.29,212.04 245.09,212.22 243.69,212.43 256.15,212.64 244.03,212.82 246.57,212.99 245.75,213.16 238.75,213.40 250.14,213.61 229.40,213.75 240.47,213.84 255.39,214.05 242.43,214.30 245.58,214.55 239.12,214.68 248.16,214.90 235.65,215.12 242.61,215.24 247.67,215.47 242.79,215.61 242.91,215.85 252.08,216.04 248.11,216.27 245.74,216.45 245.58,216.68 238.63,216.91 238.51,217.08 247.55,217.24 249.98,217.51 246.45,217.74 240.87,217.88 250.79,218.09 247.04,218.32 245.47,218.54 241.97,218.74 241.92,218.97 244.69,219.17 240.10,219.36 241.36,219.52 251.74,219.73 247.91,220.00 244.68,220.16 244.28,220.33 249.20,220.56 255.68,220.73 246.13,220.87 249.68,221.02 249.31,221.16 250.00,221.42 250.04,221.60 249.88,221.77 242.20,221.93 245.16,222.19 242.95,222.40 251.22,222.53 250.01,222.67 240.10,222.88 248.52,223.11 244.73,223.38 245.81,223.51 254.88,223.76 254.48,223.93 240.23,224.11 245.42,224.38 251.91,224.50 245.83,224.65 248.83,224.79 243.57,224.93 251.60,225.20 246.09,225.46 253.89,225.69 242.57,225.96 251.57,226.10 242.50,226.37 243.91,226.64 238.52,226.80 254.94,227.07 250.97,227.35 238.40,227.52 255.66,227.65 239.38,227.77 249.40,227.97 237.98,228.22 243.78,228.38 251.22,228.55 246.74,228.80 247.38,229.00 251.11,229.19 245.19,229.34 242.79,229.58 245.72,229.81 242.55,229.97 244.23,230.13 249.26,230.36 240.27,230.57 243.63,230.69 239.18,230.92 242.08,231.10 246.74,231.35 249.03,231.57 254.70,231.82 258.00,231.90 246.49,232.09 258.26,232.22 254.21,232.49 254.33,232.63 241.87,232.78 249.30,233.02 255.11,233.20 251.79,233.46 255.05,233.69 249.86,233.83 249.70,234.04 244.41,234.31 253.66,234.58 256.23,234.80 253.08,234.94 253.93,235.16 240.95,235.35 255.00,235.63 255.31,235.80 241.69,235.95 243.15,236.22 243.99,236.35 250.42,236.62 244.37,236.83 239.36,237.07 247.28,237.28 251.15,237.48 250.64,237.64 254.40,237.90 248.14,238.17 246.14,238.35 242.88,238.57 254.87,238.77 247.97,239.00 243.29,239.25 243.17,239.42 252.81,239.57 254.46,239.73 247.04,239.89 251.34,240.08 244.13,240.28 244.28,240.53 252.98,240.68 247.47,240.96 248.72,241.21 251.50,241.46 240.31,241.61 248.74,241.82 250.43,242.03 240.14,242.26 243.92,242.53 248.90,242.68 242.07,242.96 253.30,243.20 246.81,243.44 245.88,243.71 240.85,243.90 242.99,244.04 247.85,244.27 243.44,244.47 247.77,244.62 250.31,244.89 250.64,245.16 248.88,245.37 246.36,245.55 239.82,245.75 238.47,245.99 244.81,246.16 243.58,246.34 245.52,246.60 247.78,246.75 250.55,247.02 244.21,247.25 247.13,247.47 247.70,247.63 235.15,247.83 244.84,247.98 239.22,248.20 234.73,248.44 247.16,248.63 241.91,248.79 242.65,248.91 241.68,249.17 234.34,249.42 236.16,249.64 241.35,249.85 244.12,250.09 252.05,250.24 244.65,250.50 251.49,250.67 234.79,250.93 241.89,251.17 241.36,251.36 241.26,251.58 243.19,251.82 242.27,252.08 246.97,252.34 246.67,252.53 249.21,252.70 243.86,252.92 236.98,253.15 247.44,253.42 248.12,253.54 242.19,253.71 241.94,253.89 236.09,254.16 246.06,254.41 247.61,254.64 247.01,254.86 250.01,255.07 242.69,255.21 242.15,255.44 244.68,255.66 249.19,255.80 248.50,256.03 237.90,256.22 246.54,256.42 249.11,256.69 248.59,256.82 245.49,257.06 247.40,257.22 248.82,257.34 251.25,257.49 256.75,257.50 241.24,257.76 241.17,258.02 237.53,258.17 249.84,258.30 247.66,258.45 241.81,258.62 243.80,258.82 245.07,259.07 234.99,259.35 247.73,259.52 238.82,259.77 245.43,259.91 240.46,260.11 246.19,260.35 250.75,260.55 236.83,260.68 242.83,260.93 250.74,261.07 240.36,261.27 246.42,261.51 235.98,261.73 236.00,261.88 233.81,262.12 248.33,262.30 240.11,262.42 233.00,262.50 231.86,262.57 239.08,262.76 243.24,263.03 242.17,263.25 242.61,263.44 243.41,263.63 240.15,263.88 238.03,264.00 241.70,264.25 248.87,264.40 248.04,264.63 245.77,264.82 250.44,265.08 236.72,265.34 245.52,265.51 242.79,265.64 239.20,265.91 246.57,266.17 249.81,266.41 243.71,266.67 237.32,266.80 250.26,267.04 241.25,267.23 237.71,267.45 240.71,267.61 242.65,267.75 239.44,268.04 250.89,268.28 240.25,268.54 241.86,268.68 239.82,268.85 252.42,269.11 246.12,269.42 241.72,269.59 251.46,269.79 248.60,270.02 257.14,270.30 257.54,270.49 255.86,270.69 254.22,270.98 255.59,271.25 260.20,271.50 248.58,271.68 255.06,271.90 256.74,272.13" fill="none" stroke="#000" stroke-width="0.9" stroke-linejoin="round"/>
<polyline points="256.74,272.13 248.76,272.40 257.37,272.68 249.69,272.92 251.02,273.18 255.22,273.40 254.47,273.63 251.02,273.95 262.08,274.16 252.79,274.36 264.41,274.65 252.57,274.98 258.59,275.17 254.47,275.33 259.53,275.65 256.20,275.88 267.43,276.03 267.05,276.18 266.28,276.42 264.15,276.63 266.83,276.81 256.31,277.15 268.22,277.37 264.03,277.55 260.52,277.84 257.99,278.05 263.54,278.30 266.99,278.61 259.73,278.97 263.68,279.24 258.28,279.47 262.19,279.81 267.94,280.12 264.68,280.38 256.79,280.75 266.61,281.10 261.15,281.32 256.42,281.50 263.10,281.84 267.68,282.02 263.08,282.39 261.26,282.69 266.43,283.00 265.45,283.37 276.25,283.75 269.08,283.77 265.94,283.98 264.16,284.26 261.98,284.49 267.43,284.82 260.50,285.04 266.03,285.28 257.15,285.68 265.98,285.89 259.09,286.11 266.66,286.46 261.96,286.72 260.98,287.01 261.76,287.20 262.58,287.49 266.11,287.72 260.42,288.01 262.07,288.26 267.49,288.52 261.38,288.85 267.01,289.26 259.79,289.60 263.76,289.81 262.99,290.22 258.03,290.54 261.96,290.83 258.23,291.22 258.72,291.61 264.09,291.83 258.85,292.02 256.97,292.31 257.61,292.71 255.12,293.08 265.00,293.34 265.20,293.70 259.93,293.93 266.08,294.21 267.37,294.49 265.93,294.74 257.97,295.11 265.69,295.43 260.96,295.67 264.75,295.89 264.21,296.15 259.43,296.50 265.42,296.70 261.73,297.00 266.85,297.27 267.57,297.60 262.46,297.93 261.95,298.21 265.63,298.48 261.94,298.84 261.10,299.19 266.30,299.41 259.10,299.68 266.01,299.92 264.88,300.14 261.31,300.40 260.94,300.73 265.27,301.06 266.11,301.27 259.68,301.58 263.97,301.82 263.69,302.04 266.86,302.37 257.55,302.69 256.64,303.20 258.49,303.67 257.85,304.25 255.91,304.71 256.60,305.23 261.98,305.99 261.33,306.89 261.31,307.83 266.60,308.77 261.56,309.80 265.77,310.33 262.60,311.16 275.00,311.25 267.97,311.81 268.76,312.49 270.94,313.15 265.64,314.10 260.89,315.05 264.89,315.63 264.89,316.60 261.97,317.50 264.53,318.50 267.99,319.47 268.80,320.54 267.56,321.41 261.71,322.40 263.72,322.89 267.43,323.66 263.97,324.28 265.08,324.84 264.87,325.55 271.43,325.96 271.47,326.72 268.13,327.32 266.72,327.66 278.02,328.26 272.03,328.62 282.50,328.75 275.90,329.17 271.41,329.78 277.93,330.22 267.24,330.66 277.85,331.03 278.43,331.51 271.71,331.84 279.66,332.40 272.92,332.70 277.33,333.00 278.24,333.29 270.35,333.85 273.40,334.42 273.44,334.84 271.74,335.29 277.31,335.66 271.98,336.12 274.99,336.41 266.73,336.71 266.31,337.25 265.58,337.70 285.60,338.00 267.11,338.13 272.79,338.43 274.91,338.88 275.67,339.33 273.67,339.92 272.38,340.36 274.74,340.82 272.29,341.11 266.82,341.59 275.05,342.03 267.50,342.36 272.53,342.90 265.69,343.28 273.09,343.64 265.73,344.19 265.51,344.71 265.48,345.32 266.18,345.76 266.15,346.35 270.07,346.78 267.49,347.09 268.17,347.53 269.47,348.14 263.67,348.71 266.29,349.14 263.92,349.54 260.35,349.81 266.54,350.43 260.39,350.73 270.21,351.10 267.20,351.63 263.70,352.17 264.37,352.63 261.82,353.13 260.83,353.67 267.60,354.24 260.39,354.72 263.77,355.01 263.00,355.60 264.90,356.11 260.18,356.51 266.21,357.11 263.61,357.55 261.49,358.06 262.76,358.33 264.34,358.68 266.82,359.20 266.60,359.48 265.37,360.01 262.28,360.41 272.36,360.87 270.64,361.44 264.23,362.06 270.85,362.55 264.45,363.04 272.80,363.61 271.83,364.10 273.41,364.72 275.28,365.14 268.81,365.43 270.59,365.72 266.23,366.26 265.32,366.71 269.03,367.21 268.41,367.58 266.78,368.00 269.27,368.58 270.51,368.98 269.35,369.59 271.49,370.22 262.00,370.51 264.50,371.14 268.45,371.61 267.97,371.93 267.14,372.30 266.15,372.59 268.75,372.94 270.90,373.33 270.93,373.95 264.60,374.31 263.80,374.79 270.66,375.31 266.61,375.79 271.76,376.37 270.02,376.94 266.78,377.31 269.59,377.75 272.90,378.08 276.51,378.66 268.14,379.17 274.15,379.59 274.38,379.89 274.45,380.22 266.81,380.83 264.44,381.18 268.71,381.66 266.18,382.25 268.06,382.68 268.15,383.17 273.37,383.48 269.60,384.04 268.40,384.50 274.15,384.84 269.39,385.42 277.21,385.94 277.00,386.52 272.06,387.09 268.44,387.47 271.25,387.84 269.40,388.25 275.10,388.72 271.76,389.33 272.57,389.67 279.04,390.14 279.64,390.43 272.14,390.84 272.03,391.37 269.73,391.64 272.80,392.22 277.32,392.83 275.88,393.31 278.51,393.88 275.50,394.30 276.00,394.62 274.91,395.21 273.61,395.74 274.98,396.09 280.63,396.52 278.40,397.10 272.00,397.40 279.00,398.40 284.50,399.60 277.00,400.60 282.00,401.20 276.00,401.80 294.00,403.20 281.00,405.00 270.00,406.80 273.17,406.60 270.82,407.09 278.81,407.55 273.09,408.10 275.64,408.40 272.88,408.95 277.01,409.45 270.49,409.98 269.95,410.29 270.71,410.87 273.49,411.24 269.13,411.74 275.11,412.08 270.74,412.69 271.80,412.98 270.20,413.58 275.81,413.86 270.39,414.14 273.78,414.63 270.95,415.00 275.26,415.54 272.35,416.05 272.06,416.67 271.04,417.17 271.74,417.46 270.95,417.76 272.31,418.30 275.73,418.91 277.13,419.53 273.76,420.03 273.65,420.43 277.03,420.93 279.15,421.28 274.07,421.60 272.10,422.19 276.06,422.53 274.04,422.90 271.92,423.21 275.20,423.62 276.64,424.24 271.03,424.75 276.21,425.26 276.73,425.74 271.98,426.29 275.56,426.75 280.88,427.12 274.74,427.58 278.45,427.99 285.50,428.00 280.31,428.52 280.53,429.19 274.41,429.77 278.89,430.12 277.63,430.76 279.31,431.52 279.02,432.23 279.65,432.72 278.27,433.43 277.69,433.98 276.78,434.53 277.92,435.41 278.84,436.45 274.93,437.49 273.45,438.32 277.91,438.99 275.41,439.50 276.27,440.29 276.80,440.93 279.11,441.52 276.95,441.98 273.71,442.57 279.30,443.12 277.16,443.79 277.18,444.70 276.31,445.45 277.84,446.06 278.94,446.93 277.34,447.49 282.03,448.05 276.14,448.84 275.55,449.60 282.92,450.28 285.27,450.94 277.46,451.27 282.96,451.71 279.54,452.25 282.75,452.53 282.71,452.93 280.98,453.35 281.45,453.89 279.80,454.19 279.67,454.57 280.54,454.85 276.57,455.44 278.88,455.87 278.20,456.17 277.05,456.45 281.19,456.82 286.07,457.14 282.17,457.63 284.43,458.16 278.12,458.52 278.89,458.83 286.40,459.30 286.85,459.73 282.80,460.16 289.82,460.58 281.84,460.96 278.03,461.37 279.15,461.82 281.41,462.35 281.57,462.71 285.35,463.22 289.52,463.69 284.24,464.24 284.19,464.53 287.04,465.13 289.29,465.67 284.49,465.94 271.75,466.00 278.10,466.23 298.00,466.25 284.99,466.58 285.07,466.94 278.82,467.43 282.01,467.72 282.82,468.20 280.40,468.68 284.02,469.25 282.58,469.88 278.12,470.39 278.38,470.70 281.92,471.19 279.91,471.62 280.40,472.14 281.28,472.52 283.65,473.02 284.73,473.58 282.11,474.01 280.35,474.39 280.06,474.86 280.91,475.14 277.23,475.75 277.74,476.12 281.93,476.50 278.06,477.06 283.52,477.52 280.87,477.91 281.49,478.51 280.43,479.13 277.82,479.62 281.74,479.91 274.20,480.37 276.77,480.95 274.37,481.58 273.89,482.16 277.83,482.65 281.60,483.00 273.06,483.37 280.41,483.80 276.56,484.12 279.73,484.64 277.28,485.16 273.74,485.58 276.67,485.98 277.17,486.38 276.70,486.69 281.12,487.21 279.37,487.80 275.42,488.40 280.50,488.88 279.66,489.30 272.43,489.74 272.54,490.27 277.64,490.78 276.21,491.20 279.94,491.57 276.37,491.97 272.59,492.48 275.84,492.87 272.93,493.38 274.77,493.67 273.51,494.01 278.68,494.29 280.76,494.61 275.32,494.94 277.12,495.49 272.86,495.89 281.75,496.46 277.56,497.04 277.69,497.62 275.39,497.94 277.58,498.25" fill="none" stroke="#000" stroke-width="1.15" stroke-linejoin="round"/>
<!-- MECO band -->
<rect x="70.6" y="397.4" width="242.2" height="10.1" fill="rgb(185,98,45)" fill-opacity="0.3"/>
<text x="243" y="406.3" font-size="9.4" font-weight="bold">MECO</text>
</svg>
</body></html>
